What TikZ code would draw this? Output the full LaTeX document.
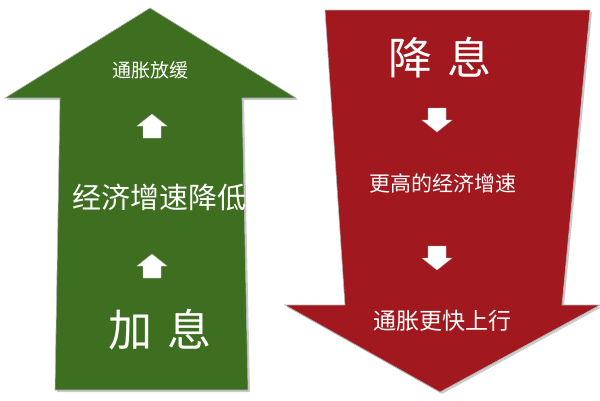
\documentclass[tikz,border=0pt]{standalone}
\usepackage{fontspec}
\newfontfamily\cjk{Noto Sans CJK SC}
\usetikzlibrary{shadows}
\definecolor{upgreen}{HTML}{3E6E1F}
\definecolor{downred}{HTML}{A1181F}
\tikzset{
  bigarrow/.style={draw=black!30, line width=0.6pt, drop shadow={shadow xshift=2pt, shadow yshift=-2pt, opacity=0.4}},
  tinyarrow/.style={fill=white, draw=black!25, line width=0.4pt},
  label/.style={text=white, font=\cjk\fontsize{21}{24}\selectfont},
  biglabel/.style={text=white, font=\cjk\fontsize{44}{48}\selectfont}
}
\newcommand{\uparr}[2]{\draw[tinyarrow] (#1-9,#2+12) -- (#1-9,#2) -- (#1-15,#2) -- (#1,#2-12) -- (#1+15,#2) -- (#1+9,#2) -- (#1+9,#2+12) -- cycle;}
\newcommand{\downarr}[2]{\draw[tinyarrow] (#1-9,#2-12) -- (#1-9,#2) -- (#1-15,#2) -- (#1,#2+12) -- (#1+15,#2) -- (#1+9,#2) -- (#1+9,#2-12) -- cycle;}
\begin{document}
\begin{tikzpicture}[x=1pt, y=-1pt]
  \useasboundingbox (0,0) rectangle (600,400);
  % 绿色上行箭头
  \fill[upgreen, bigarrow] (150,8) -- (296,98) -- (242,98) -- (248,390) -- (55,390) -- (60,98) -- (5,98) -- cycle;
  % 红色下行箭头
  \fill[downred, bigarrow] (325,10) -- (590,10) -- (562,305) -- (600,305) -- (440,392) -- (285,305) -- (345,305) -- cycle;
  % 小箭头
  \uparr{152}{126}
  \uparr{152}{266}
  \downarr{437}{120}
  \downarr{437}{258}
  % 文字
  \node[label, font=\cjk\fontsize{19}{22}\selectfont] (slow) at (150,70) {通胀放缓};
  \node[label, font=\cjk\fontsize{29}{32}\selectfont] (growdown) at (159,197) {经济增速降低};
  \node[biglabel] (hike) at (160,330) {加\,\,息};
  \node[biglabel] (cut) at (440,58) {降\,\,息};
  \node[label] (growup) at (443,183) {更高的经济增速};
  \node[label, font=\cjk\fontsize{23}{26}\selectfont] (infl) at (442,321) {通胀更快上行};
\end{tikzpicture}
\end{document}
